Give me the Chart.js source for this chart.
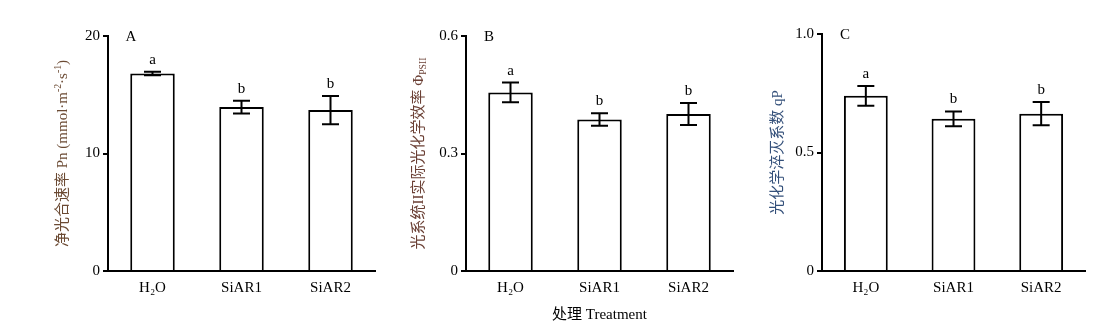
<!DOCTYPE html>
<html>
<head>
<meta charset="utf-8">
<script src="https://cdn.jsdelivr.net/npm/chart.js@4.4.1/dist/chart.umd.min.js"></script>
<style>
  html, body { margin: 0; padding: 0; background: #fff; }
  #wrap { position: relative; width: 1114px; height: 331px; }
  canvas { position: absolute; top: 0; }
</style>
</head>
<body>
<div id="wrap">
  <canvas id="chartA" width="380" height="331" style="left:0px"></canvas>
  <canvas id="chartB" width="360" height="331" style="left:380px"></canvas>
  <canvas id="chartC" width="374" height="331" style="left:740px"></canvas>
</div>
<script>
// data
const treatments = ['H₂O', 'SiAR1', 'SiAR2'];

const pnValues = [16.8, 13.95, 13.7];
const pnErrors = [0.15, 0.55, 1.2];
const pnLetters = ['a', 'b', 'b'];
const pnTicks = [0, 10, 20];
const pnTickLabels = ['0', '10', '20'];

const phiValues = [0.456, 0.387, 0.401];
const phiErrors = [0.025, 0.016, 0.028];
const phiLetters = ['a', 'b', 'b'];
const phiTicks = [0, 0.3, 0.6];
const phiTickLabels = ['0', '0.3', '0.6'];

const qpValues = [0.739, 0.642, 0.664];
const qpErrors = [0.042, 0.031, 0.049];
const qpLetters = ['a', 'b', 'b'];
const qpTicks = [0, 0.5, 1.0];
const qpTickLabels = ['0', '0.5', '1.0'];

const FONT = '"Liberation Serif", "Noto Sans CJK SC", serif';

// rotated axis title with super/subscript pieces
function drawRich(ctx, segs, cx, cy, size, color) {
    ctx.save();
    ctx.translate(cx, cy);
    ctx.rotate(-Math.PI / 2);
    ctx.fillStyle = color;
    ctx.textBaseline = 'alphabetic';
    ctx.textAlign = 'left';
    let total = 0;
    segs.forEach(s => {
        const fs = (s.sup || s.sub) ? size * 0.65 : size;
        ctx.font = fs + 'px ' + FONT;
        s.w = ctx.measureText(s.t).width;
        s.fs = fs;
        total += s.w;
    });
    let x = -total / 2;
    const base = size * 0.38;
    segs.forEach(s => {
        ctx.font = s.fs + 'px ' + FONT;
        let dy = 0;
        if (s.sup) dy = -size * 0.4;
        if (s.sub) dy = size * 0.22;
        ctx.fillText(s.t, x, base + dy);
        x += s.w;
    });
    ctx.restore();
}

function decoPlugin(p) {
    return {
        id: 'deco',
        afterDatasetsDraw(chart) {
            const ctx = chart.ctx;
            const y = chart.scales.y;
            const area = chart.chartArea;
            const meta = chart.getDatasetMeta(0);
            ctx.save();
            ctx.strokeStyle = '#000';
            ctx.fillStyle = '#000';
            ctx.lineWidth = 2;
            meta.data.forEach((bar, i) => {
                const v = p.values[i], e = p.errors[i];
                const hi = y.getPixelForValue(v + e);
                const lo = y.getPixelForValue(v - e);
                ctx.beginPath();
                ctx.moveTo(bar.x, lo); ctx.lineTo(bar.x, hi);
                ctx.moveTo(bar.x - 8.5, hi); ctx.lineTo(bar.x + 8.5, hi);
                ctx.moveTo(bar.x - 8.5, lo); ctx.lineTo(bar.x + 8.5, lo);
                ctx.stroke();
                ctx.font = '15px ' + FONT;
                ctx.textAlign = 'center';
                ctx.textBaseline = 'middle';
                ctx.fillText(p.letters[i], bar.x, hi - 12);
            });
            ctx.font = '15px ' + FONT;
            ctx.textAlign = 'center';
            ctx.textBaseline = 'middle';
            ctx.fillText(p.panel, area.left + 23, area.top + 1);
            if (p.xTitle) {
                ctx.fillText(p.xTitle, (area.left + area.right) / 2, 315);
            }
            ctx.restore();
            drawRich(ctx, p.yTitle, p.yTitleX, (area.top + area.bottom) / 2, 15, p.titleColor);
        }
    };
}

function makePanel(canvasId, p) {
    const ctx = document.getElementById(canvasId).getContext('2d');
    const top = p.ticks[p.ticks.length - 1];
    return new Chart(ctx, {
        type: 'bar',
        data: {
            labels: treatments,
            datasets: [{
                data: p.values,
                backgroundColor: '#fff',
                borderColor: '#000',
                borderWidth: 2,
                barPercentage: 0.5,
                categoryPercentage: 1
            }]
        },
        options: {
            responsive: false,
            animation: false,
            layout: { padding: { top: p.top, right: p.right, bottom: 0, left: 0 } },
            plugins: {
                legend: { display: false },
                tooltip: { enabled: false }
            },
            scales: {
                x: {
                    grid: { display: false, drawTicks: false },
                    border: { color: '#000', width: 2 },
                    ticks: { color: '#000', font: { family: FONT, size: 15 }, padding: 8 },
                    afterFit: s => { s.height = 60; }
                },
                y: {
                    min: 0,
                    max: top,
                    afterBuildTicks: s => { s.ticks = p.ticks.map(v => ({ value: v })); },
                    ticks: {
                        color: '#000',
                        font: { family: FONT, size: 15 },
                        padding: 3,
                        callback: (v, i) => p.tickLabels[i]
                    },
                    grid: { drawOnChartArea: false, tickLength: 5, color: '#000', lineWidth: 2 },
                    border: { color: '#000', width: 2 },
                    afterFit: s => { s.width = p.axisWidth; }
                }
            }
        },
        plugins: [decoPlugin(p)]
    });
}

makePanel('chartA', {
    values: pnValues, errors: pnErrors, letters: pnLetters,
    ticks: pnTicks, tickLabels: pnTickLabels,
    panel: 'A', top: 36, right: 5, axisWidth: 108, yTitleX: 61,
    titleColor: '#6b4a33',
    yTitle: [{ t: '净光合速率 Pn (mmol·m' }, { t: '-2', sup: true }, { t: '·s' }, { t: '-1', sup: true }, { t: ')' }]
});

makePanel('chartB', {
    values: phiValues, errors: phiErrors, letters: phiLetters,
    ticks: phiTicks, tickLabels: phiTickLabels,
    panel: 'B', top: 36, right: 7, axisWidth: 86, yTitleX: 37,
    titleColor: '#6b4035',
    xTitle: '处理 Treatment',
    yTitle: [{ t: '光系统II实际光化学效率 Φ' }, { t: 'PSII', sub: true }]
});

makePanel('chartC', {
    values: qpValues, errors: qpErrors, letters: qpLetters,
    ticks: qpTicks, tickLabels: qpTickLabels,
    panel: 'C', top: 34, right: 29, axisWidth: 82, yTitleX: 36,
    titleColor: '#34507a',
    yTitle: [{ t: '光化学淬灭系数 qP' }]
});
</script>
</body>
</html>
